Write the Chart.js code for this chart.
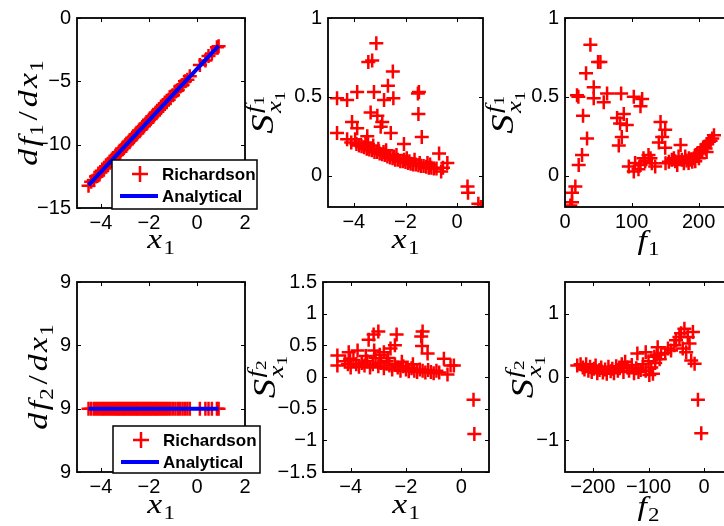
<!DOCTYPE html>
<html><head><meta charset="utf-8">
<script src="https://cdn.jsdelivr.net/npm/chart.js@4"></script>
<style>
html,body{margin:0;padding:0;background:#fff;overflow:hidden;width:724px;height:526px;position:relative;}
canvas{position:absolute;left:0;top:0;}
</style></head><body>
<canvas id="c1" width="760" height="526"></canvas>
<canvas id="c2" width="760" height="526"></canvas>
<canvas id="c3" width="760" height="526"></canvas>
<canvas id="c4" width="760" height="526"></canvas>
<canvas id="c5" width="760" height="526"></canvas>
<canvas id="c6" width="760" height="526"></canvas>
<script>
// ---------------- DATA ----------------
const seriesNames = ['Richardson', 'Analytical'];

const x1 = [-4.52,-4.41,-4.3,-4.21,-4.12,-4.03,-3.95,-3.87,-3.79,-3.71,-3.63,-3.55,-3.47,-3.4,-3.33,-3.26,-3.19,-3.12,-3.05,-2.98,-2.91,-2.84,-2.77,-2.7,-2.63,-2.56,-2.49,-2.42,-2.35,-2.28,-2.21,-2.14,-2.07,-2.0,-1.93,-1.86,-1.79,-1.72,-1.65,-1.58,-1.5,-1.42,-1.34,-1.26,-1.18,-1.1,-1.0,-0.9,-0.8,-0.7,-0.6,-0.5,-0.4,-0.3,0.12,0.35,0.48,0.62,0.83,0.9];
const df1dx1Richardson = [-13.25,-12.92,-12.8,-12.52,-12.43,-12.15,-12.08,-11.83,-11.75,-11.5,-11.43,-11.18,-11.1,-10.88,-10.82,-10.6,-10.55,-10.3,-10.26,-10.02,-9.97,-9.75,-9.68,-9.46,-9.4,-9.18,-9.11,-8.89,-8.83,-8.6,-8.55,-8.32,-8.26,-8.04,-7.98,-7.76,-7.69,-7.47,-7.41,-7.19,-7.11,-6.86,-6.78,-6.54,-6.46,-6.21,-6.09,-5.81,-5.68,-5.4,-5.28,-5.0,-4.87,-4.6,-3.72,-3.36,-3.0,-2.8,-2.3,-2.24];
const df1dx1Analytical = [-13.2,-12.97,-12.75,-12.57,-12.38,-12.2,-12.04,-11.88,-11.71,-11.55,-11.39,-11.23,-11.06,-10.92,-10.78,-10.64,-10.5,-10.35,-10.21,-10.07,-9.93,-9.79,-9.64,-9.5,-9.36,-9.22,-9.07,-8.93,-8.79,-8.65,-8.51,-8.36,-8.22,-8.08,-7.94,-7.8,-7.65,-7.51,-7.37,-7.23,-7.07,-6.9,-6.74,-6.58,-6.42,-6.25,-6.05,-5.85,-5.64,-5.44,-5.24,-5.04,-4.83,-4.63,-3.78,-3.31,-3.05,-2.76,-2.34,-2.19];
const df2dx1Richardson = [9,9,9,9,9,9,9,9,9,9,9,9,9,9,9,9,9,9,9,9,9,9,9,9,9,9,9,9,9,9,9,9,9,9,9,9,9,9,9,9,9,9,9,9,9,9,9,9,9,9,9,9,9,9,9,9,9,9,9,9];
const df2dx1Analytical = [9,9,9,9,9,9,9,9,9,9,9,9,9,9,9,9,9,9,9,9,9,9,9,9,9,9,9,9,9,9,9,9,9,9,9,9,9,9,9,9,9,9,9,9,9,9,9,9,9,9,9,9,9,9,9,9,9,9,9,9];

const sf1X1 = [-3.13,-3.44,-3.29,-2.49,-2.68,-1.52,-1.48,-4.65,-4.26,-3.87,-3.22,-2.83,-2.47,-1.5,-3.35,-3.09,-2.9,-4.07,-3.87,-2.96,-2.57,-4.65,-1.37,-4.26,-3.48,-2.06,-0.7,-0.38,-0.62,0.4,0.42,0.82,0.92,
  -4.1,-3.9,-3.8,-3.7,-3.6,-3.5,-3.4,-3.3,-3.2,-3.1,-3.0,-2.9,-2.8,-2.7,-2.6,-2.5,-2.4,-2.3,-2.2,-2.1,-2.0,-1.9,-1.8,-1.7,-1.6,-1.5,-1.4,-1.3,-1.2,-1.1,-1.0,-0.9,-0.8,
  -3.55,-3.25,-2.75,-2.35,-1.95,-1.65,-1.15,-3.95,-3.45,-3.05,-2.85,-2.45,-2.05,-1.85,-1.45,-1.05,-0.55];
const sf1 = [0.84,0.72,0.73,0.66,0.57,0.52,0.53,0.49,0.48,0.53,0.53,0.48,0.49,0.39,0.4,0.38,0.34,0.34,0.3,0.31,0.27,0.27,0.245,0.23,0.25,0.2,0.14,0.08,0.025,-0.07,-0.11,-0.18,-0.2,
  0.21,0.2,0.19,0.185,0.18,0.17,0.165,0.16,0.15,0.15,0.14,0.135,0.13,0.12,0.115,0.11,0.1,0.1,0.09,0.09,0.085,0.08,0.075,0.07,0.07,0.065,0.06,0.06,0.055,0.05,0.05,0.045,0.045,
  0.21,0.19,0.16,0.13,0.11,0.1,0.08,0.23,0.2,0.17,0.15,0.12,0.1,0.09,0.08,0.07,0.05];

const f1 = [38,49.5,53,31.5,43,18,20,43,58,63,84,103,115.5,113,27,78,88,82.5,92.5,85,80.5,33,25.5,20.5,15.5,10.5,10.5,8,
  95.5,103,113,117.5,125,135,130,
  143,150,145.5,140.5,150,
  155.5,163,173,185.5,195.5,205.5,215.5,223,168,178,190.5,200.5,210.5,220.5,150.5,
  165,175,182,188,193,198,203,208,213,218,212,160,170,180,185,195,105,110,120,128];
const sf1ByF1 = [0.83,0.72,0.72,0.65,0.56,0.51,0.5,0.49,0.465,0.52,0.52,0.5,0.485,0.44,0.38,0.365,0.39,0.33,0.32,0.245,0.19,0.235,0.13,0.067,-0.07,-0.11,-0.17,-0.19,
  0.057,0.025,0.067,0.11,0.13,0.057,0.078,
  0.34,0.29,0.245,0.21,0.176,
  0.088,0.109,0.193,0.109,0.13,0.151,0.214,0.256,0.067,0.077,0.088,0.109,0.172,0.235,0.077,
  0.09,0.1,0.095,0.1,0.11,0.14,0.16,0.18,0.2,0.22,0.15,0.1,0.12,0.12,0.08,0.09,0.08,0.04,0.09,0.11];

const sf2X1 = [-3.0,-3.17,-3.35,-2.34,-2.4,-1.4,-1.45,-1.42,-1.22,-4.48,-4.48,-4.07,-4.02,-3.75,-3.15,-2.8,-2.56,-0.63,-0.39,-0.27,-0.5,0.44,0.47,
  -4.2,-4.1,-4.0,-3.9,-3.8,-3.7,-3.6,-3.5,-3.4,-3.3,-3.2,-3.1,-3.0,-2.9,-2.8,-2.7,-2.6,-2.5,-2.4,-2.3,-2.2,-2.1,-2.0,-1.9,-1.8,-1.7,-1.6,-1.5,-1.4,-1.3,-1.2,-1.1,-1.0,-0.9,-0.8,
  -3.45,-2.95,-2.65,-2.15,-1.75];
const sf2 = [0.72,0.67,0.59,0.67,0.5,0.72,0.64,0.49,0.37,0.34,0.18,0.39,0.29,0.42,0.42,0.39,0.45,0.29,0.18,0.18,0.04,-0.36,-0.9,
  0.25,0.2,0.15,0.27,0.2,0.16,0.22,0.18,0.25,0.15,0.2,0.3,0.17,0.22,0.14,0.25,0.18,0.12,0.2,0.15,0.1,0.17,0.12,0.09,0.14,0.1,0.08,0.12,0.1,0.07,0.11,0.08,0.06,0.1,0.07,
  0.33,0.35,0.3,0.24,0.2];

const f2 = [-120,-105,-114,-98.5,-83.5,-89.5,-77.5,-59.5,-50.5,-41.5,-35.5,-20.2,-26.3,-32.3,-23.3,-17.2,-11.2,-5.2,-53.5,-44.5,-38.5,-29.4,
  -228,-222,-218,-215,-212,-208,-205,-202,-198,-195,-192,-188,-185,-182,-178,-175,-172,-168,-165,-162,-158,-155,-152,-148,-145,-142,-138,-135,-130,-126,-122,-118,-110,-105,-100,-95,-92,-88,-85,-80,-70,-65];
const sf2ByF2 = [0.37,0.39,0.11,0.03,0.47,0.32,0.37,0.42,0.58,0.69,0.76,0.71,0.53,0.39,0.26,0.21,-0.36,-0.89,0.5,0.63,0.45,0.63,
  0.18,0.2,0.15,0.12,0.2,0.1,0.16,0.08,0.13,0.18,0.06,0.11,0.15,0.07,0.12,0.05,0.16,0.09,0.13,0.06,0.17,0.1,0.14,0.2,0.08,0.24,0.15,0.1,0.19,0.06,0.14,0.08,0.2,0.1,0.25,0.15,0.05,0.22,0.35,0.28,0.38,0.45];

// ticks
const p1XTicks = [-4,-2,0,2], p1XTickLabels = ['−4','−2','0','2'];
const p1YTicks = [-15,-10,-5,0], p1YTickLabels = ['−15','−10','−5','0'];
const p2XTicks = [-4,-2,0], p2XTickLabels = ['−4','−2','0'];
const sYTicks = [0,0.5,1], sYTickLabels = ['0','0.5','1'];
const p3XTicks = [0,100,200], p3XTickLabels = ['0','100','200'];
const p4YTicks = [8.99,9,9.01,9.02], p4YTickLabels = ['9','9','9','9'];
const p5YTicks = [-1.5,-1,-0.5,0,0.5,1,1.5], p5YTickLabels = ['−1.5','−1','−0.5','0','0.5','1','1.5'];
const p6XTicks = [-200,-100,0], p6XTickLabels = ['−200','−100','0'];
const p6YTicks = [-1,0,1], p6YTickLabels = ['−1','0','1'];

// ---------------- HELPERS ----------------
const pts = (xs, ys) => xs.map((x, i) => ({x: x, y: ys[i]}));
const SERIF = '"Liberation Serif", "Times New Roman", serif';
const SANS = '"Liberation Sans", Arial, Helvetica, sans-serif';

function segs(ctx, list, base, x, y, draw, gap) {
  let adv = 0;
  for (const s of list) {
    if (s.stack) {
      const w1 = segs(ctx, s.stack[0], base, x + adv, y + s.topDy * base, draw, gap);
      const w2 = segs(ctx, s.stack[1], base, x + adv, y + s.botDy * base, draw, gap);
      adv += Math.max(w1, w2);
    } else {
      const size = base * (s.s || 1);
      ctx.font = (s.up ? '' : 'italic ') + size + 'px ' + SERIF;
      if (draw) ctx.fillText(s.t, x + adv, y + (s.dy || 0) * base);
      adv += ctx.measureText(s.t).width + (s.g !== undefined ? s.g : gap);
    }
  }
  return adv;
}
function richLabel(ctx, list, cx, cy, vertical, base, hs, gap) {
  ctx.save();
  ctx.fillStyle = '#000';
  ctx.textBaseline = 'alphabetic';
  ctx.textAlign = 'left';
  const w = segs(ctx, list, base, 0, 0, false, gap);
  ctx.translate(cx, cy);
  if (vertical) ctx.rotate(-Math.PI / 2);
  ctx.scale(hs, 1);
  segs(ctx, list, base, -w / 2, 0, true, gap);
  ctx.restore();
}
function sub(k, g) { return {t: String(k), s: 0.68, dy: 0.22, up: true, g: g || 0}; }
function lblDfDx(k) { return [{t:'d',g:2},{t:'f',g:1},sub(k,3),{t:'/',up:true,g:3},{t:'d',g:2},{t:'x',g:1},sub(1)]; }
function lblVar(v, k) { return [{t: v, g: 1}, sub(k)]; }
function lblS(k) {
  return [{t:'S', g: 1},{stack:[[{t:'f',s:0.7,g:0},{t:String(k),s:0.5,dy:0.12,up:true,g:0}],[{t:'x',s:0.7,g:0},{t:'1',s:0.5,dy:0.12,up:true,g:0}]], topDy:-0.42, botDy:0.26}];
}

const matlabAxes = {
  id: 'matlabAxes',
  afterDatasetsDraw(chart) {
    const {ctx, chartArea: a, scales} = chart;
    ctx.save();
    ctx.strokeStyle = '#000';
    ctx.lineWidth = 1;
    const tl = 4;
    ctx.beginPath();
    scales.x.ticks.forEach(t => {
      const p = Math.round(scales.x.getPixelForValue(t.value)) + 0.5;
      ctx.moveTo(p, a.bottom); ctx.lineTo(p, a.bottom - tl);
      ctx.moveTo(p, a.top); ctx.lineTo(p, a.top + tl);
    });
    scales.y.ticks.forEach(t => {
      const p = Math.round(scales.y.getPixelForValue(t.value)) + 0.5;
      ctx.moveTo(a.left, p); ctx.lineTo(a.left + tl, p);
      ctx.moveTo(a.right, p); ctx.lineTo(a.right - tl, p);
    });
    ctx.stroke();
    ctx.lineWidth = 1.8;
    ctx.strokeRect(a.left, a.top, a.right - a.left, a.bottom - a.top);
    ctx.restore();
  }
};
const axisTitles = {
  id: 'axisTitles',
  afterDraw(chart, args, o) {
    const {ctx, chartArea: a} = chart;
    const hs = 1.25;
    if (o.x) richLabel(ctx, o.x, (a.left + a.right) / 2, a.bottom + o.xOff, false, 27, hs, 0);
    if (o.y) richLabel(ctx, o.y, a.left - o.yOff, (a.top + a.bottom) / 2, true, o.yBase || 27, hs, 0);
  }
};
const boxLegend = {
  id: 'boxLegend',
  afterDraw(chart, args, o) {
    if (!o.box) return;
    const {ctx} = chart;
    const [bx, by, bw, bh] = o.box;
    const ds = chart.data.datasets;
    ctx.save();
    ctx.fillStyle = '#fff';
    ctx.fillRect(bx, by, bw, bh);
    ctx.strokeStyle = '#000';
    ctx.lineWidth = 1.5;
    ctx.strokeRect(bx, by, bw, bh);
    const r1 = by + 14, r2 = by + 36;
    ctx.strokeStyle = ds[0].borderColor;
    ctx.lineWidth = 2.5;
    ctx.beginPath();
    ctx.moveTo(bx + 20, r1); ctx.lineTo(bx + 36, r1);
    ctx.moveTo(bx + 28, r1 - 8); ctx.lineTo(bx + 28, r1 + 8);
    ctx.stroke();
    ctx.strokeStyle = ds[1].borderColor;
    ctx.lineWidth = 4;
    ctx.beginPath();
    ctx.moveTo(bx + 8, r2); ctx.lineTo(bx + 46, r2);
    ctx.stroke();
    ctx.fillStyle = '#000';
    ctx.font = 'bold 17px ' + SANS;
    ctx.textBaseline = 'middle';
    ctx.textAlign = 'left';
    ctx.fillText(ds[0].label, bx + 50, r1 + 1);
    ctx.fillText(ds[1].label, bx + 50, r2 + 1);
    ctx.restore();
  }
};

const W = 760, H = 526, YW = 70, XH = 50;
function makeChart(id, c) {
  const [L, T, R, B] = c.area;
  const tickFont = {family: SANS, size: 20};
  new Chart(document.getElementById(id), {
    type: 'scatter',
    data: {datasets: c.datasets},
    options: {
      responsive: false, animation: false, events: [],
      layout: {padding: {left: L - YW, top: T, right: W - R, bottom: H - XH - B}},
      scales: {
        x: {
          type: 'linear', min: c.xr[0], max: c.xr[1],
          grid: {display: false, drawTicks: false}, border: {display: false},
          afterBuildTicks: s => { s.ticks = c.xt.map(v => ({value: v})); },
          afterFit: s => { s.height = XH; },
          ticks: {callback: (v, i) => c.xl[i], font: tickFont, color: '#000', padding: 3, maxRotation: 0, autoSkip: false}
        },
        y: {
          type: 'linear', min: c.yr[0], max: c.yr[1],
          grid: {display: false, drawTicks: false}, border: {display: false},
          afterBuildTicks: s => { s.ticks = c.yt.map(v => ({value: v})); },
          afterFit: s => { s.width = YW; },
          ticks: {callback: (v, i) => c.yl[i], font: tickFont, color: '#000', padding: 6, autoSkip: false}
        }
      },
      plugins: {
        legend: {display: false}, tooltip: {enabled: false},
        axisTitles: c.titles,
        boxLegend: c.legend || {}
      }
    },
    plugins: [matlabAxes, axisTitles, boxLegend]
  });
}
const richDs = (data) => ({label: seriesNames[0], data: data, showLine: false, pointStyle: 'cross', pointRadius: 7, pointBorderWidth: 2.5, borderColor: '#ff0000', backgroundColor: '#ff0000', order: 1});
const anaDs = (data) => ({label: seriesNames[1], data: data, showLine: true, pointRadius: 0, borderColor: '#0000ff', backgroundColor: '#0000ff', borderWidth: 4, fill: false, order: 0});

makeChart('c1', {
  area: [77, 15, 245, 208], xr: [-5, 2], yr: [-15, 0],
  xt: p1XTicks, xl: p1XTickLabels, yt: p1YTicks, yl: p1YTickLabels,
  datasets: [richDs(pts(x1, df1dx1Richardson)), anaDs(pts(x1, df1dx1Analytical))],
  titles: {x: lblVar('x', 1), xOff: 40, y: lblDfDx(1), yOff: 40},
  legend: {box: [112, 160, 145, 49]}
});
makeChart('c2', {
  area: [328, 15, 483, 207], xr: [-5, 1], yr: [-0.2, 1],
  xt: p2XTicks, xl: p2XTickLabels, yt: sYTicks, yl: sYTickLabels,
  datasets: [richDs(pts(sf1X1, sf1))],
  titles: {x: lblVar('x', 1), xOff: 41, y: lblS(1), yOff: 55, yBase: 31}
});
makeChart('c3', {
  area: [565, 15, 732, 207], xr: [0, 250], yr: [-0.2, 1],
  xt: p3XTicks, xl: p3XTickLabels, yt: sYTicks, yl: sYTickLabels,
  datasets: [richDs(pts(f1, sf1ByF1))],
  titles: {x: lblVar('f', 1), xOff: 42, y: lblS(1), yOff: 52, yBase: 31}
});
makeChart('c4', {
  area: [77, 282, 245, 472], xr: [-5, 2], yr: [8.99, 9.02],
  xt: p1XTicks, xl: p1XTickLabels, yt: p4YTicks, yl: p4YTickLabels,
  datasets: [richDs(pts(x1, df2dx1Richardson)), anaDs(pts(x1, df2dx1Analytical))],
  titles: {x: lblVar('x', 1), xOff: 41, y: lblDfDx(2), yOff: 30},
  legend: {box: [113, 426, 147, 47]}
});
makeChart('c5', {
  area: [323, 282, 489, 472], xr: [-5, 1], yr: [-1.5, 1.5],
  xt: p2XTicks, xl: p2XTickLabels, yt: p5YTicks, yl: p5YTickLabels,
  datasets: [richDs(pts(sf2X1, sf2))],
  titles: {x: lblVar('x', 1), xOff: 41, y: lblS(2), yOff: 48, yBase: 31}
});
makeChart('c6', {
  area: [565, 282, 732, 472], xr: [-250, 50], yr: [-1.5, 1.5],
  xt: p6XTicks, xl: p6XTickLabels, yt: p6YTicks, yl: p6YTickLabels,
  datasets: [richDs(pts(f2, sf2ByF2))],
  titles: {x: lblVar('f', 2), xOff: 43, y: lblS(2), yOff: 32, yBase: 31}
});
</script>
</body></html>
